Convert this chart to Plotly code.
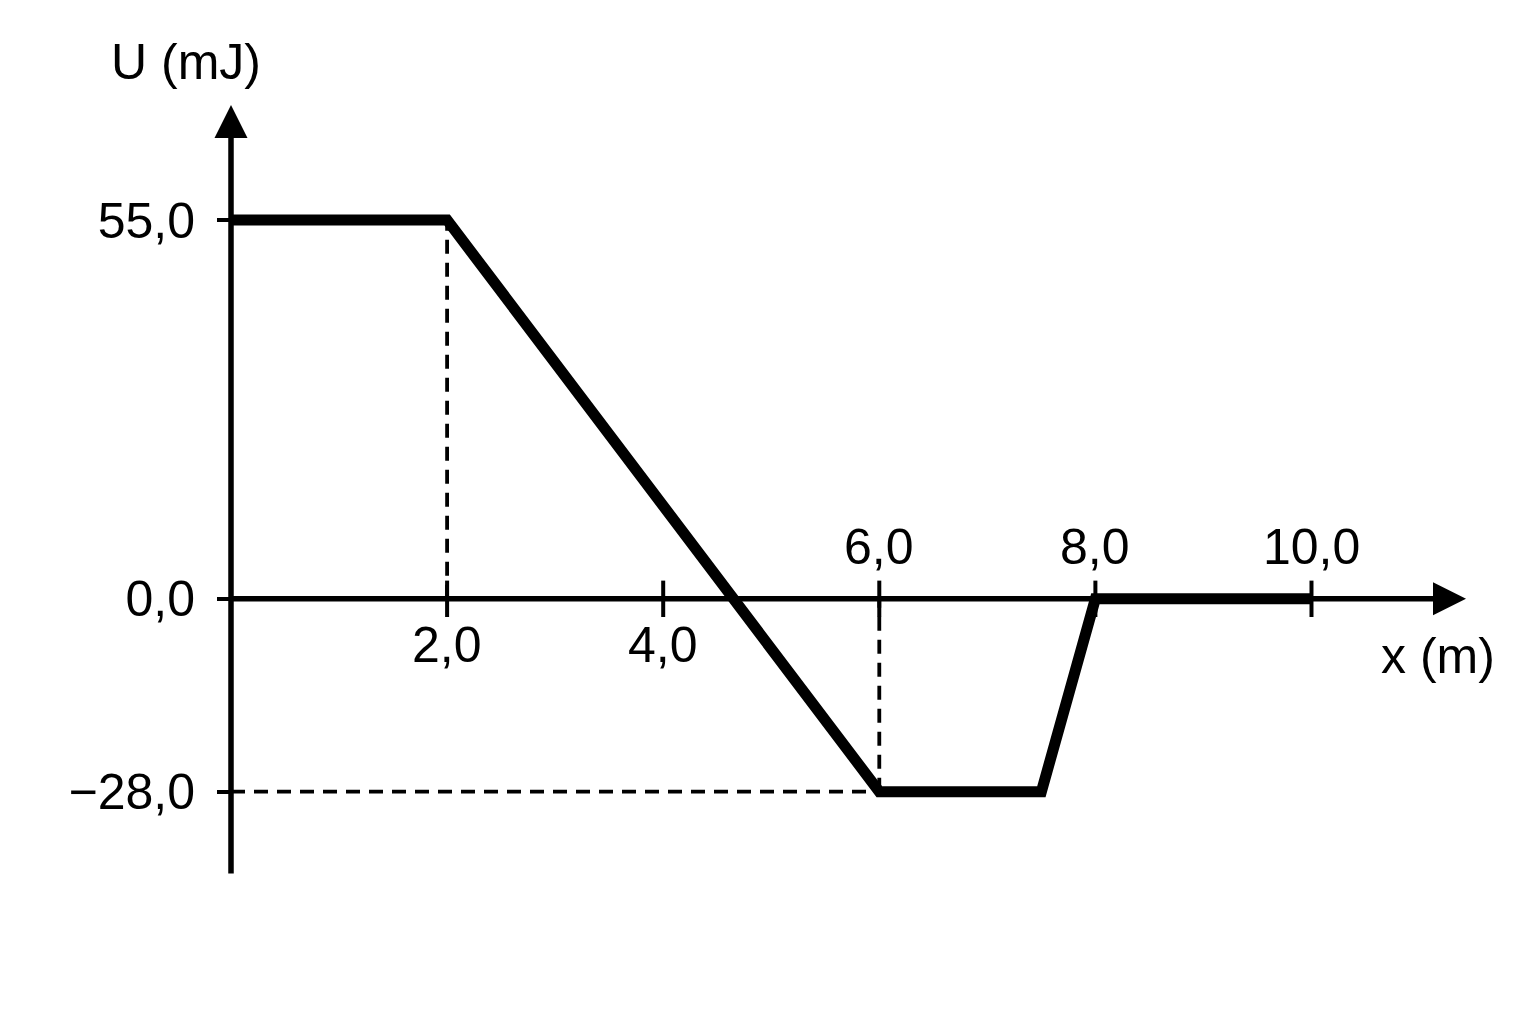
import plotly.graph_objects as go

# potential energy curve U(x)
x_pts = [0.0, 2.0, 6.0, 7.5, 8.0, 10.0]
u_pts = [55.0, 55.0, -28.0, -28.0, 0.0, 0.0]

# axis ticks and labels
x_ticks = [2.0, 4.0, 6.0, 8.0, 10.0]
x_tick_text = ["2,0", "4,0", "6,0", "8,0", "10,0"]
x_labels_below = [2.0, 4.0]
y_ticks = [55.0, 0.0, -28.0]
y_tick_text = ["55,0", "0,0", "\u221228,0"]

x_title = "x (m)"
y_title = "U (mJ)"

x_range = [0, 11.43]
y_range = [-40.1, 71.7]

FONT = "Liberation Sans, Arial, sans-serif"
BLACK = "#000000"
DASH = dict(color=BLACK, width=3.8, dash="14px,9px")

fig = go.Figure()

# dashed guides
fig.add_trace(go.Scatter(x=[2.0, 2.0], y=[0.0, 55.0], mode="lines", line=DASH,
                         hoverinfo="skip", cliponaxis=False))
fig.add_trace(go.Scatter(x=[6.0, 6.0], y=[-28.0, 0.0], mode="lines", line=DASH,
                         hoverinfo="skip", cliponaxis=False))
fig.add_trace(go.Scatter(x=[0.0, 6.0], y=[-28.0, -28.0], mode="lines", line=DASH,
                         hoverinfo="skip", cliponaxis=False))

# tick marks crossing the x axis
fig.add_trace(go.Scatter(x=x_ticks, y=[0] * len(x_ticks), mode="markers",
                         marker=dict(symbol="line-ns", size=26,
                                     line=dict(color=BLACK, width=4)),
                         hoverinfo="skip", cliponaxis=False))

# the curve
fig.add_trace(go.Scatter(x=x_pts, y=u_pts, mode="lines",
                         line=dict(color=BLACK, width=11),
                         hoverinfo="skip", cliponaxis=False))

# axis lines with arrow heads
fig.add_annotation(x=x_range[1], y=0, ax=0, ay=0, xref="x", yref="y",
                   axref="x", ayref="y", text="", showarrow=True,
                   arrowhead=2, arrowsize=1.2, arrowwidth=5.5, arrowcolor=BLACK)
fig.add_annotation(x=0, y=y_range[1], ax=0, ay=y_range[0], xref="x", yref="y",
                   axref="x", ayref="y", text="", showarrow=True,
                   arrowhead=2, arrowsize=1.2, arrowwidth=5.5, arrowcolor=BLACK)

# x tick labels
for v, t in zip(x_ticks, x_tick_text):
    below = v in x_labels_below
    fig.add_annotation(x=v, y=0, text=t, showarrow=False,
                       yshift=-46 if below else 52,
                       font=dict(family=FONT, size=50, color=BLACK))

# axis titles
fig.add_annotation(x=x_range[1], y=0, text=x_title, showarrow=False,
                   xanchor="center", xshift=-28, yshift=-57,
                   font=dict(family=FONT, size=50, color=BLACK))
fig.add_annotation(x=0, y=y_range[1], text=y_title, showarrow=False,
                   xanchor="center", xshift=-45, yshift=43,
                   font=dict(family=FONT, size=50, color=BLACK))

fig.update_layout(
    width=1536, height=1024,
    margin=dict(l=223, r=78, t=97, b=157),
    paper_bgcolor="white", plot_bgcolor="white",
    showlegend=False,
    xaxis=dict(range=x_range, showgrid=False, zeroline=False, showline=False,
               showticklabels=False, ticks=""),
    yaxis=dict(range=y_range, showgrid=False, zeroline=False, showline=False,
               tickmode="array", tickvals=y_ticks, ticktext=y_tick_text,
               ticks="outside", ticklen=13, tickwidth=4, tickcolor=BLACK,
               ticklabelstandoff=12,
               tickfont=dict(family=FONT, size=50, color=BLACK)),
)

fig.write_html("out.html")
